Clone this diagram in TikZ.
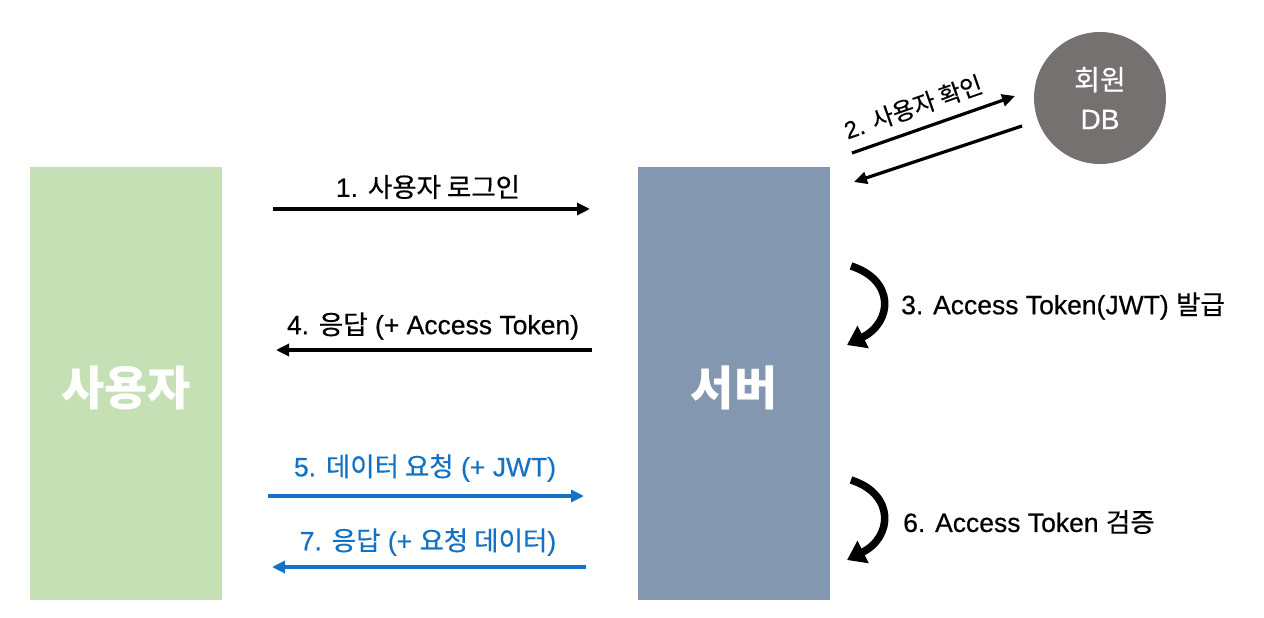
\documentclass[tikz,border=0pt]{standalone}
\usepackage{fontspec}
\setmainfont{Liberation Sans}[FakeBold=0.5]
\newfontfamily\kr{Noto Sans CJK KR}[FakeBold=0.4]
\newfontfamily\krb{Noto Sans CJK KR}
\usetikzlibrary{arrows.meta}
\definecolor{usergreen}{RGB}{197,224,180}
\definecolor{serverblue}{RGB}{132,151,176}
\definecolor{dbgray}{RGB}{118,113,113}
\definecolor{reqblue}{RGB}{20,114,196}
\tikzset{
  bigbox/.style={draw=none, minimum width=192pt, minimum height=433pt, inner sep=0},
  bigtxt/.style={text=white, font=\krb\fontsize{47}{52}\selectfont\bfseries},
  lbl/.style={font=\fontsize{26.5}{30}\selectfont, inner sep=2pt},
  msg/.style={line width=3.2pt, -{Triangle[length=13pt,width=12pt]}},
  turn/.style={line width=7.5pt, -{Triangle[length=18pt,width=24pt]}},
}
\begin{document}
\begin{tikzpicture}[x=1pt,y=-1pt]
\useasboundingbox (0,0) rectangle (1264,618);
\node[bigbox, fill=usergreen, anchor=north west] (user) at (30,167) {};
\node[bigtxt] (usertxt) at (126,388) {사용자};
\node[bigbox, fill=serverblue, anchor=north west] (server) at (638,167) {};
\node[bigtxt] (servertxt) at (734,388) {서버};
\node[circle, fill=dbgray, minimum size=132pt, inner sep=0, text=white,
      font=\fontsize{28}{39}\selectfont, align=center] (db) at (1100,98) {{\kr 회원}\\DB};

\coordinate (a1s) at (273,209); \coordinate (a1e) at (590,209);
\draw[msg] (a1s) -- (a1e);
\node[lbl] (l1) at (428,187) {1. {\kr 사용자 로그인}};

\coordinate (a4s) at (592,350); \coordinate (a4e) at (276,350);
\draw[msg] (a4s) -- (a4e);
\node[lbl] (l4) at (433,326) {4. {\kr 응답} (+ Access Token)};

\coordinate (a5s) at (268,496); \coordinate (a5e) at (584,496);
\draw[msg, draw=reqblue, fill=reqblue] (a5s) -- (a5e);
\node[lbl, text=reqblue] (l5) at (425,468) {5. {\kr 데이터 요청} (+ JWT)};

\coordinate (a7s) at (586,567); \coordinate (a7e) at (272,567);
\draw[msg, draw=reqblue, fill=reqblue] (a7s) -- (a7e);
\node[lbl, text=reqblue] (l7) at (428,542) {7. {\kr 응답} (+ {\kr 요청 데이터})};

\coordinate (a2s) at (852,153); \coordinate (a2e) at (1015,96);
\draw[msg] (a2s) -- (a2e);
\node[lbl, rotate=19.3, font=\fontsize{24}{28}\selectfont] (l2) at (913,107) {2. {\kr 사용자 확인}};
\coordinate (a2bs) at (1022,126); \coordinate (a2be) at (854,182);
\draw[msg] (a2bs) -- (a2be);

\coordinate (c3s) at (851,266); \coordinate (c3e) at (847,345);
\draw[turn] (c3s) .. controls (895,280) and (893,322) .. (c3e);
\node[lbl, anchor=west] (l3) at (899,306) {3. Access Token(JWT) {\kr 발급}};

\coordinate (c6s) at (851,480); \coordinate (c6e) at (847,560);
\draw[turn] (c6s) .. controls (895,494) and (893,537) .. (c6e);
\node[lbl, anchor=west] (l6) at (901,522) {6. Access Token {\kr 검증}};
\end{tikzpicture}
\end{document}
